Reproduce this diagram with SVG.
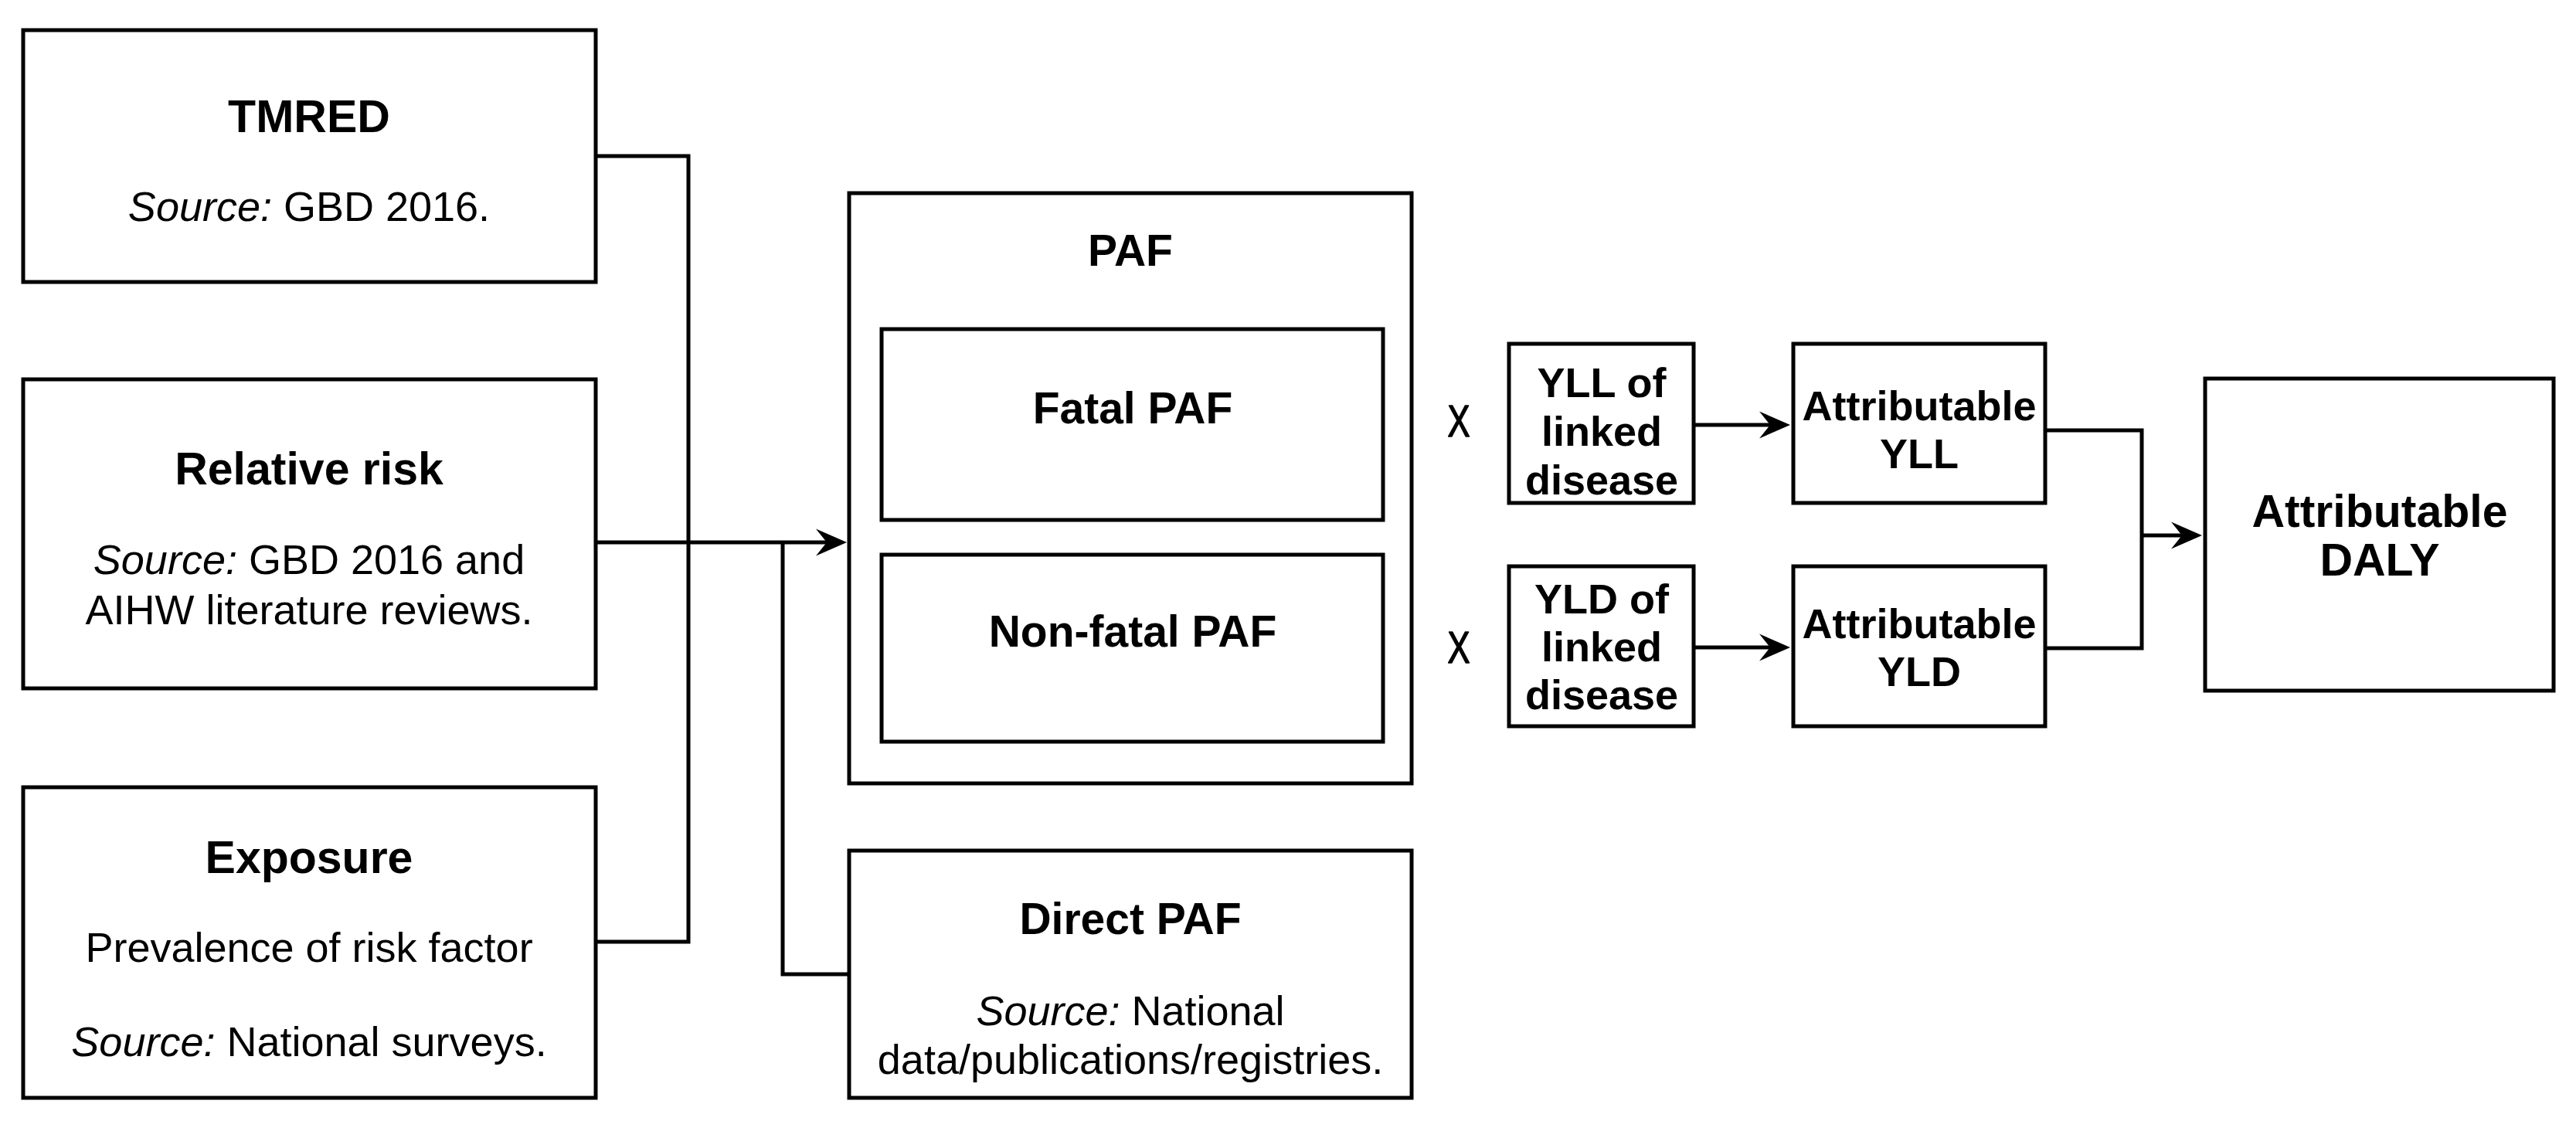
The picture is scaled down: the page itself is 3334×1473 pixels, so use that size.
<svg xmlns="http://www.w3.org/2000/svg" width="3334" height="1473" viewBox="0 0 3334 1473">
<style>
.box{fill:#fff;stroke:#000;stroke-width:5}
.ln{fill:none;stroke:#000;stroke-width:5}
text{font-family:"Liberation Sans",Arial,sans-serif;fill:#000;text-anchor:middle}
.bl{font-weight:bold;font-size:59px}
.bm{font-weight:bold;font-size:57px}
.bs{font-weight:bold;font-size:54px}
.r{font-size:54px}
.x{font-size:58px;stroke:#000;stroke-width:1.5px;stroke-linejoin:round}
</style>
<defs>
<marker id="arr" markerUnits="userSpaceOnUse" markerWidth="40" markerHeight="35" refX="14" refY="17.5" orient="auto" overflow="visible">
<path d="M0,0 L40,17.5 L0,35 L14,17.5 Z" fill="#000"/>
</marker>
</defs>
<rect width="3334" height="1473" fill="#fff"/>
<g id="connectors">
<path class="ln" d="M772,202 H891 V1219 H772"/>
<path class="ln" d="M772,702 H1070" marker-end="url(#arr)"/>
<path class="ln" d="M1013,702 V1261 H1099"/>
<path class="ln" d="M2194,550 H2291" marker-end="url(#arr)"/>
<path class="ln" d="M2194,838 H2291" marker-end="url(#arr)"/>
<path class="ln" d="M2648,557 H2772 V839 H2648"/>
<path class="ln" d="M2772,693 H2824" marker-end="url(#arr)"/>
</g>
<g id="tmred">
<rect class="box" x="30" y="39" width="741" height="326"/>
<text class="bl" x="400" y="171">TMRED</text>
<text class="r" x="400" y="286"><tspan font-style="italic">Source:</tspan> GBD 2016.</text>
</g>
<g id="relative-risk">
<rect class="box" x="30" y="491" width="741" height="400"/>
<text class="bl" x="400" y="627">Relative risk</text>
<text class="r" x="400" y="743"><tspan font-style="italic">Source:</tspan> GBD 2016 and</text>
<text class="r" x="400" y="808">AIHW literature reviews.</text>
</g>
<g id="exposure">
<rect class="box" x="30" y="1019" width="741" height="402"/>
<text class="bl" x="400" y="1130">Exposure</text>
<text class="r" x="400" y="1245">Prevalence of risk factor</text>
<text class="r" x="400" y="1367"><tspan font-style="italic">Source:</tspan> National surveys.</text>
</g>
<g id="paf">
<rect class="box" x="1099" y="250" width="728" height="764"/>
<text class="bm" x="1463" y="344">PAF</text>
</g>
<g id="fatal-paf">
<rect class="box" x="1141" y="426" width="649" height="247"/>
<text class="bm" x="1466" y="548">Fatal PAF</text>
</g>
<g id="nonfatal-paf">
<rect class="box" x="1141" y="718" width="649" height="242"/>
<text class="bm" x="1466" y="837">Non-fatal PAF</text>
</g>
<g id="direct-paf">
<rect class="box" x="1099" y="1101" width="728" height="320"/>
<text class="bm" x="1463" y="1209">Direct PAF</text>
<text class="r" x="1463" y="1327"><tspan font-style="italic">Source:</tspan> National</text>
<text class="r" x="1463" y="1390">data/publications/registries.</text>
</g>
<g id="times1">
<text class="x" transform="translate(1888,565) scale(0.75,1)" x="0" y="0">X</text>
</g>
<g id="times2">
<text class="x" transform="translate(1888,858) scale(0.75,1)" x="0" y="0">X</text>
</g>
<g id="yll">
<rect class="box" x="1953" y="445" width="239" height="206"/>
<text class="bs" x="2073" y="514">YLL of</text>
<text class="bs" x="2073" y="577">linked</text>
<text class="bs" x="2073" y="640">disease</text>
</g>
<g id="yld">
<rect class="box" x="1953" y="733" width="239" height="207"/>
<text class="bs" x="2073" y="794">YLD of</text>
<text class="bs" x="2073" y="856">linked</text>
<text class="bs" x="2073" y="918">disease</text>
</g>
<g id="attr-yll">
<rect class="box" x="2321" y="445" width="326" height="206"/>
<text class="bs" x="2484" y="544">Attributable</text>
<text class="bs" x="2484" y="606">YLL</text>
</g>
<g id="attr-yld">
<rect class="box" x="2321" y="733" width="326" height="207"/>
<text class="bs" x="2484" y="826">Attributable</text>
<text class="bs" x="2484" y="888">YLD</text>
</g>
<g id="attr-daly">
<rect class="box" x="2854" y="490" width="451" height="404"/>
<text class="bl" x="3080" y="682">Attributable</text>
<text class="bl" x="3080" y="745">DALY</text>
</g>
</svg>
